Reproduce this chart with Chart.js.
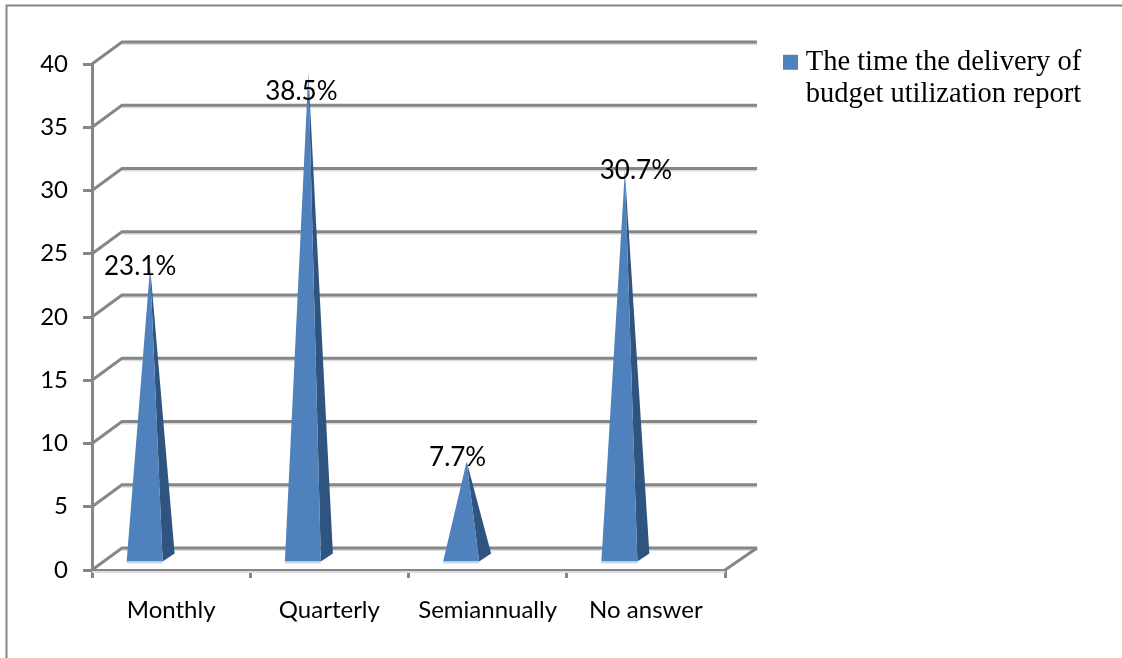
<!DOCTYPE html>
<html>
<head>
<meta charset="utf-8">
<title>Budget utilization report</title>
<script src="https://cdn.jsdelivr.net/npm/chart.js@4/dist/chart.umd.min.js"></script>
<style>
    html, body { margin: 0; padding: 0; background: #fff; overflow: hidden; }
    canvas { display: block; }
</style>
</head>
<body>
<canvas id="deliveryChart" width="1122" height="658"></canvas>
<script>
const categories = ['Monthly', 'Quarterly', 'Semiannually', 'No answer'];
const seriesValues = [23.1, 38.5, 7.7, 30.7];
const valueLabels = ['23.1%', '38.5%', '7.7%', '30.7%'];
const seriesLabel = ['The time the delivery of', 'budget utilization report'];

const GREY = '#868686';
const SHADOW = '#dcdcdc';
const FRONT = '#4f81bd';
const SIDE = '#2f5480';
const TICK_FONT = { family: 'Lato', size: 24 };

// Fake 3D depth of the walls
const DEPTH_X = 30;
const DEPTH_Y = 22;

// Draw each bar as a pyramid instead of a rectangle
Chart.BarElement.prototype.draw = function (ctx) {
    const apexX = this.x - 21;
    const apexY = this.y - 11;
    const baseY = this.base - 7;
    const left = this.x - 44.5;
    const right = this.x - 8.5;

    ctx.save();
    ctx.fillStyle = SIDE;
    ctx.beginPath();
    ctx.moveTo(right, baseY);
    ctx.lineTo(this.x + 3.5, baseY - 8);
    ctx.lineTo(apexX, apexY);
    ctx.closePath();
    ctx.fill();

    ctx.fillStyle = this.options.backgroundColor;
    ctx.beginPath();
    ctx.moveTo(left, baseY);
    ctx.lineTo(right, baseY);
    ctx.lineTo(apexX, apexY);
    ctx.closePath();
    ctx.fill();

    ctx.fillStyle = '#c6d8ed';
    ctx.fillRect(left, baseY, right - left, 2);
    ctx.restore();
};

const wallsPlugin = {
    id: 'walls',
    beforeLayout(chart) {
        // Legend takes no room in the layout, the right padding reserves its column
        const legend = chart.legend;
        const fit = legend.constructor.prototype.fit;
        legend.fit = function () {
            fit.call(this);
            this.width = 0;
        };
    },
    afterLayout(chart) {
        const legend = chart.legend;
        legend.left = 779.5;
        legend.right = 1122;
        legend.top = 38;
        legend.bottom = 140;
        legend.width = legend.right - legend.left;
        legend.height = legend.bottom - legend.top;
    },
    beforeDatasetsDraw(chart) {
        const { ctx, chartArea, scales } = chart;
        ctx.save();

        // Outer frame of the picture
        ctx.strokeStyle = GREY;
        ctx.lineWidth = 2;
        ctx.beginPath();
        ctx.moveTo(6.5, 658);
        ctx.lineTo(6.5, 5.5);
        ctx.lineTo(1122, 5.5);
        ctx.stroke();

        const wallRight = chartArea.right + DEPTH_X + 2;

        // Back wall lines and their diagonals on the side wall
        scales.y.ticks.forEach(tick => {
            const y = scales.y.getPixelForValue(tick.value);
            ctx.fillStyle = SHADOW;
            ctx.fillRect(chartArea.left + DEPTH_X, y - DEPTH_Y + 1, wallRight - chartArea.left - DEPTH_X, 2);
            ctx.lineWidth = 3;
            ctx.beginPath();
            ctx.moveTo(chartArea.left, y);
            ctx.lineTo(chartArea.left + DEPTH_X, y - DEPTH_Y);
            ctx.lineTo(wallRight, y - DEPTH_Y);
            ctx.stroke();
        });

        // Floor edge on the right
        ctx.beginPath();
        ctx.moveTo(chartArea.right, chartArea.bottom);
        ctx.lineTo(wallRight, chartArea.bottom - DEPTH_Y);
        ctx.stroke();

        // Soft shadow under the front axis
        ctx.fillStyle = SHADOW;
        ctx.fillRect(chartArea.left, chartArea.bottom + 1, chartArea.right - chartArea.left, 2);
        ctx.restore();
    },
    afterDatasetsDraw(chart) {
        const { ctx } = chart;
        const bars = chart.getDatasetMeta(0).data;
        // Labels were placed by hand in the original, nudges are relative to the bar top
        const nudges = [[-31, -11], [-28, 9], [-30, -15], [-10, -11]];
        ctx.save();
        ctx.fillStyle = '#000';
        ctx.font = '26px Lato';
        ctx.textAlign = 'center';
        ctx.textBaseline = 'middle';
        bars.forEach((bar, i) => {
            ctx.fillText(valueLabels[i], bar.x + nudges[i][0], bar.y + nudges[i][1]);
        });
        ctx.restore();
    }
};

new Chart(document.getElementById('deliveryChart'), {
    type: 'bar',
    data: {
        labels: categories,
        datasets: [{
            label: seriesLabel,
            data: seriesValues,
            backgroundColor: FRONT,
            clip: false
        }]
    },
    plugins: [wallsPlugin],
    options: {
        responsive: false,
        animation: false,
        layout: { padding: { top: 64, right: 397, bottom: 0, left: 0 } },
        plugins: {
            tooltip: { enabled: false },
            legend: {
                position: 'right',
                align: 'start',
                labels: {
                    padding: 10,
                    boxWidth: 2,
                    boxHeight: 2,
                    color: '#000',
                    font: { family: 'Liberation Serif', size: 28.5, lineHeight: 1.125 },
                    generateLabels: () => [{
                        text: seriesLabel,
                        fillStyle: FRONT,
                        strokeStyle: FRONT,
                        lineWidth: 13,
                        hidden: false,
                        datasetIndex: 0
                    }]
                }
            }
        },
        scales: {
            x: {
                afterFit: scale => { scale.height = 88; },
                grid: { drawOnChartArea: false, color: GREY, lineWidth: 3, tickLength: 8 },
                border: { color: GREY, width: 2 },
                ticks: { color: '#000', font: TICK_FONT, maxRotation: 0, autoSkip: false, padding: 18 }
            },
            y: {
                min: 0,
                max: 40,
                afterFit: scale => { scale.width = 92; },
                grid: { drawOnChartArea: false, color: GREY, lineWidth: 3, tickLength: 9 },
                border: { color: GREY, width: 3 },
                ticks: { color: '#000', font: TICK_FONT, stepSize: 5, padding: 15 }
            }
        }
    }
});
</script>
</body>
</html>
